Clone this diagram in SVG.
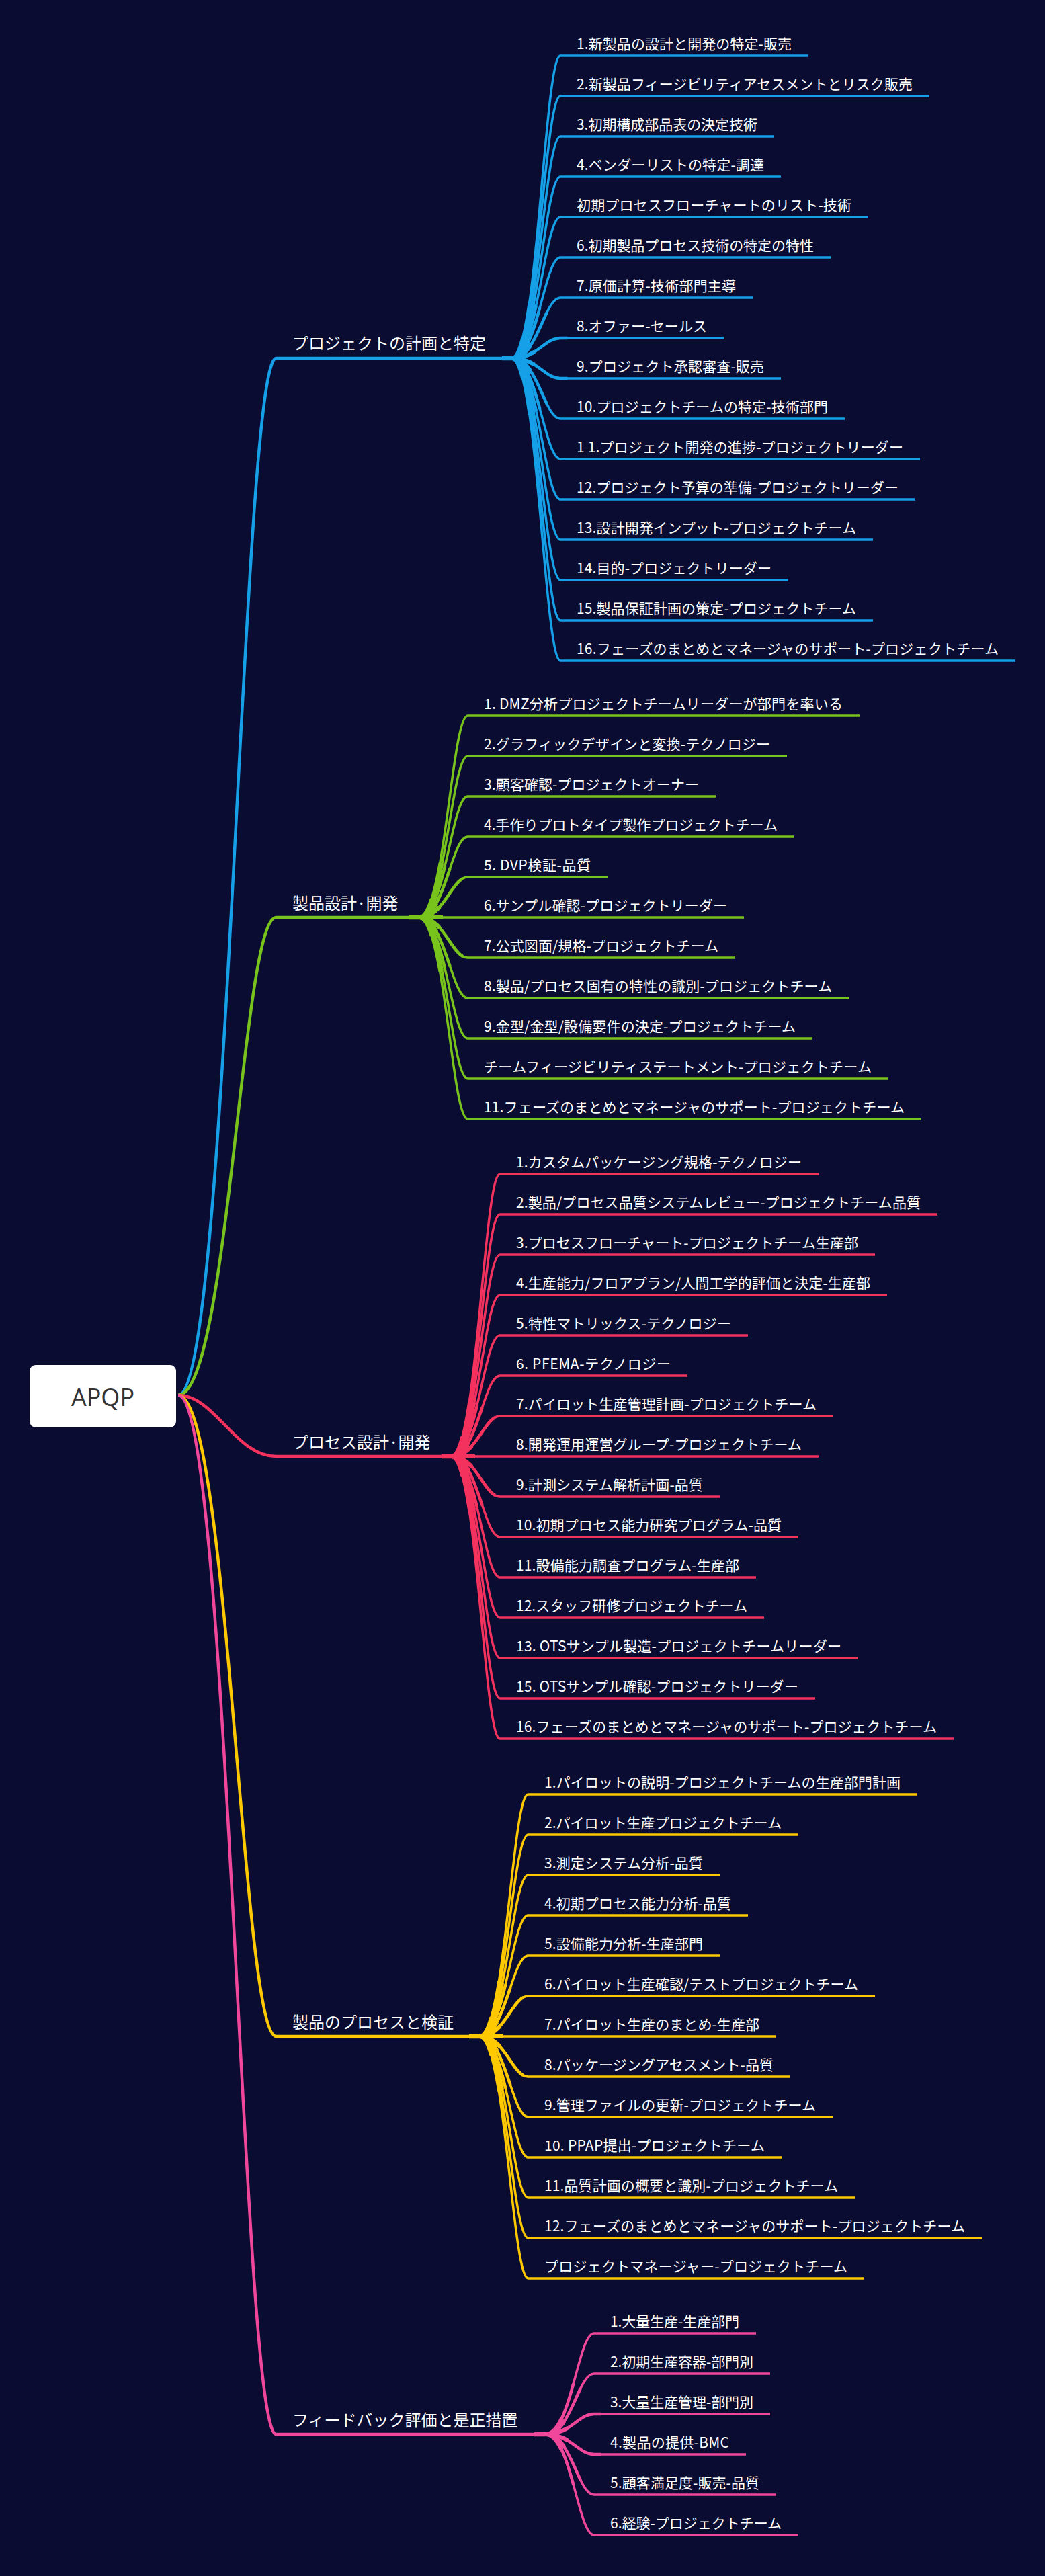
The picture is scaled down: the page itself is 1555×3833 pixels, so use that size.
<svg xmlns="http://www.w3.org/2000/svg" xmlns:xlink="http://www.w3.org/1999/xlink" width="1555" height="3833" viewBox="0 0 1555 3833">
<style>
.bg{fill:#0a0d31}
.t{font-family:"Noto Sans CJK JP","Noto Sans",sans-serif;font-size:21px;fill:#ffffff}
.m{font-size:24px}
.root-t{font-family:"Open Sans","Noto Sans",sans-serif;font-size:36px;fill:#333333}
.cb{stroke:#15a0e8}
.cg{stroke:#78c31c}
.cr{stroke:#f4325e}
.cy{stroke:#fec901}
.cp{stroke:#f0479b}
.main{fill:none;stroke-width:4.5}
.tp1{fill:none;stroke-width:6;stroke-dasharray:35 4000}
.tp2{fill:none;stroke-width:4.5;stroke-dasharray:90 4000}
.hub{fill:none;stroke-width:6.5}
</style>
<rect class="bg" x="0" y="0" width="1555" height="3833"/>

<g id="connectors">
  <g id="main-branches" class="main">
    <path class="cb" d="M265 2076 C340 2076 360 533 411 533 H762"/>
    <path class="cg" d="M265 2076 C340 2076 360 1365 411 1365 H624"/>
    <path class="cr" d="M265 2076 C320 2076 350 2167 411 2167 H672"/>
    <path class="cy" d="M265 2076 C340 2076 360 3030 411 3030 H714"/>
    <path class="cp" d="M265 2076 C340 2076 360 3622 411 3622 H812"/>
  </g>
  <g id="hubs" class="hub">
    <path class="cb" d="M747 533 H762"/>
    <path class="cg" d="M608 1365 H624"/>
    <path class="cr" d="M657 2167 H672"/>
    <path class="cy" d="M698 3030 H714"/>
    <path class="cp" d="M795 3622 H812"/>
  </g>
  <g id="sub-blue" class="cb" fill="none" stroke-width="3.5">
    <path id="b1" d="M762 533 C800 533 810 83 834 83 H1203"/>
    <path id="b2" d="M762 533 C800 533 810 143 834 143 H1383"/>
    <path id="b3" d="M762 533 C800 533 810 203 834 203 H1152"/>
    <path id="b4" d="M762 533 C800 533 810 263 834 263 H1162"/>
    <path id="b5" d="M762 533 C800 533 810 323 834 323 H1292"/>
    <path id="b6" d="M762 533 C800 533 810 383 834 383 H1236"/>
    <path id="b7" d="M762 533 C800 533 810 443 834 443 H1120"/>
    <path id="b8" d="M762 533 C800 533 810 503 834 503 H1077"/>
    <path id="b9" d="M762 533 C800 533 810 563 834 563 H1162"/>
    <path id="b10" d="M762 533 C800 533 810 623 834 623 H1257"/>
    <path id="b11" d="M762 533 C800 533 810 683 834 683 H1369"/>
    <path id="b12" d="M762 533 C800 533 810 743 834 743 H1362"/>
    <path id="b13" d="M762 533 C800 533 810 803 834 803 H1299"/>
    <path id="b14" d="M762 533 C800 533 810 863 834 863 H1173"/>
    <path id="b15" d="M762 533 C800 533 810 923 834 923 H1299"/>
    <path id="b16" d="M762 533 C800 533 810 983 834 983 H1511"/>
  </g>
  <g id="sub-green" class="cg" fill="none" stroke-width="3.5">
    <path id="g1" d="M624 1365 C662 1365 672 1065 696 1065 H1279"/>
    <path id="g2" d="M624 1365 C662 1365 672 1125 696 1125 H1171"/>
    <path id="g3" d="M624 1365 C662 1365 672 1185 696 1185 H1065"/>
    <path id="g4" d="M624 1365 C662 1365 672 1245 696 1245 H1182"/>
    <path id="g5" d="M624 1365 C662 1365 672 1305 696 1305 H904"/>
    <path id="g6" d="M624 1365 H1107"/>
    <path id="g7" d="M624 1365 C662 1365 672 1425 696 1425 H1094"/>
    <path id="g8" d="M624 1365 C662 1365 672 1485 696 1485 H1263"/>
    <path id="g9" d="M624 1365 C662 1365 672 1545 696 1545 H1209"/>
    <path id="g10" d="M624 1365 C662 1365 672 1605 696 1605 H1322"/>
    <path id="g11" d="M624 1365 C662 1365 672 1665 696 1665 H1371"/>
  </g>
  <g id="sub-red" class="cr" fill="none" stroke-width="3.5">
    <path id="r1" d="M672 2167 C710 2167 720 1747 744 1747 H1218"/>
    <path id="r2" d="M672 2167 C710 2167 720 1807 744 1807 H1395"/>
    <path id="r3" d="M672 2167 C710 2167 720 1867 744 1867 H1302"/>
    <path id="r4" d="M672 2167 C710 2167 720 1927 744 1927 H1320"/>
    <path id="r5" d="M672 2167 C710 2167 720 1987 744 1987 H1113"/>
    <path id="r6" d="M672 2167 C710 2167 720 2047 744 2047 H1023"/>
    <path id="r7" d="M672 2167 C710 2167 720 2107 744 2107 H1240"/>
    <path id="r8" d="M672 2167 H1218"/>
    <path id="r9" d="M672 2167 C710 2167 720 2227 744 2227 H1071"/>
    <path id="r10" d="M672 2167 C710 2167 720 2287 744 2287 H1188"/>
    <path id="r11" d="M672 2167 C710 2167 720 2347 744 2347 H1125"/>
    <path id="r12" d="M672 2167 C710 2167 720 2407 744 2407 H1137"/>
    <path id="r13" d="M672 2167 C710 2167 720 2467 744 2467 H1277"/>
    <path id="r14" d="M672 2167 C710 2167 720 2527 744 2527 H1213"/>
    <path id="r15" d="M672 2167 C710 2167 720 2587 744 2587 H1419"/>
  </g>
  <g id="sub-yellow" class="cy" fill="none" stroke-width="3.5">
    <path id="y1" d="M714 3030 C752 3030 762 2670 786 2670 H1365"/>
    <path id="y2" d="M714 3030 C752 3030 762 2730 786 2730 H1188"/>
    <path id="y3" d="M714 3030 C752 3030 762 2790 786 2790 H1071"/>
    <path id="y4" d="M714 3030 C752 3030 762 2850 786 2850 H1113"/>
    <path id="y5" d="M714 3030 C752 3030 762 2910 786 2910 H1071"/>
    <path id="y6" d="M714 3030 C752 3030 762 2970 786 2970 H1302"/>
    <path id="y7" d="M714 3030 H1155"/>
    <path id="y8" d="M714 3030 C752 3030 762 3090 786 3090 H1176"/>
    <path id="y9" d="M714 3030 C752 3030 762 3150 786 3150 H1239"/>
    <path id="y10" d="M714 3030 C752 3030 762 3210 786 3210 H1163"/>
    <path id="y11" d="M714 3030 C752 3030 762 3270 786 3270 H1272"/>
    <path id="y12" d="M714 3030 C752 3030 762 3330 786 3330 H1461"/>
    <path id="y13" d="M714 3030 C752 3030 762 3390 786 3390 H1286"/>
  </g>
  <g id="sub-pink" class="cp" fill="none" stroke-width="3.5">
    <path id="p1" d="M812 3622 C850 3622 860 3472 884 3472 H1125"/>
    <path id="p2" d="M812 3622 C850 3622 860 3532 884 3532 H1146"/>
    <path id="p3" d="M812 3622 C850 3622 860 3592 884 3592 H1146"/>
    <path id="p4" d="M812 3622 C850 3622 860 3652 884 3652 H1110"/>
    <path id="p5" d="M812 3622 C850 3622 860 3712 884 3712 H1155"/>
    <path id="p6" d="M812 3622 C850 3622 860 3772 884 3772 H1188"/>
  </g>
  <g id="taper" fill="none">
    <g class="cb"><use class="tp1" href="#b1"/><use class="tp1" href="#b2"/><use class="tp1" href="#b3"/><use class="tp1" href="#b4"/><use class="tp1" href="#b5"/><use class="tp1" href="#b6"/><use class="tp1" href="#b7"/><use class="tp1" href="#b8"/><use class="tp1" href="#b9"/><use class="tp1" href="#b10"/><use class="tp1" href="#b11"/><use class="tp1" href="#b12"/><use class="tp1" href="#b13"/><use class="tp1" href="#b14"/><use class="tp1" href="#b15"/><use class="tp1" href="#b16"/>
    <use class="tp2" href="#b1"/><use class="tp2" href="#b2"/><use class="tp2" href="#b3"/><use class="tp2" href="#b4"/><use class="tp2" href="#b5"/><use class="tp2" href="#b6"/><use class="tp2" href="#b7"/><use class="tp2" href="#b8"/><use class="tp2" href="#b9"/><use class="tp2" href="#b10"/><use class="tp2" href="#b11"/><use class="tp2" href="#b12"/><use class="tp2" href="#b13"/><use class="tp2" href="#b14"/><use class="tp2" href="#b15"/><use class="tp2" href="#b16"/></g>
    <g class="cg"><use class="tp1" href="#g1"/><use class="tp1" href="#g2"/><use class="tp1" href="#g3"/><use class="tp1" href="#g4"/><use class="tp1" href="#g5"/><use class="tp1" href="#g6"/><use class="tp1" href="#g7"/><use class="tp1" href="#g8"/><use class="tp1" href="#g9"/><use class="tp1" href="#g10"/><use class="tp1" href="#g11"/>
    <use class="tp2" href="#g1"/><use class="tp2" href="#g2"/><use class="tp2" href="#g3"/><use class="tp2" href="#g4"/><use class="tp2" href="#g5"/><use class="tp2" href="#g7"/><use class="tp2" href="#g8"/><use class="tp2" href="#g9"/><use class="tp2" href="#g10"/><use class="tp2" href="#g11"/></g>
    <g class="cr"><use class="tp1" href="#r1"/><use class="tp1" href="#r2"/><use class="tp1" href="#r3"/><use class="tp1" href="#r4"/><use class="tp1" href="#r5"/><use class="tp1" href="#r6"/><use class="tp1" href="#r7"/><use class="tp1" href="#r8"/><use class="tp1" href="#r9"/><use class="tp1" href="#r10"/><use class="tp1" href="#r11"/><use class="tp1" href="#r12"/><use class="tp1" href="#r13"/><use class="tp1" href="#r14"/><use class="tp1" href="#r15"/>
    <use class="tp2" href="#r1"/><use class="tp2" href="#r2"/><use class="tp2" href="#r3"/><use class="tp2" href="#r4"/><use class="tp2" href="#r5"/><use class="tp2" href="#r6"/><use class="tp2" href="#r7"/><use class="tp2" href="#r9"/><use class="tp2" href="#r10"/><use class="tp2" href="#r11"/><use class="tp2" href="#r12"/><use class="tp2" href="#r13"/><use class="tp2" href="#r14"/><use class="tp2" href="#r15"/></g>
    <g class="cy"><use class="tp1" href="#y1"/><use class="tp1" href="#y2"/><use class="tp1" href="#y3"/><use class="tp1" href="#y4"/><use class="tp1" href="#y5"/><use class="tp1" href="#y6"/><use class="tp1" href="#y7"/><use class="tp1" href="#y8"/><use class="tp1" href="#y9"/><use class="tp1" href="#y10"/><use class="tp1" href="#y11"/><use class="tp1" href="#y12"/><use class="tp1" href="#y13"/>
    <use class="tp2" href="#y1"/><use class="tp2" href="#y2"/><use class="tp2" href="#y3"/><use class="tp2" href="#y4"/><use class="tp2" href="#y5"/><use class="tp2" href="#y6"/><use class="tp2" href="#y8"/><use class="tp2" href="#y9"/><use class="tp2" href="#y10"/><use class="tp2" href="#y11"/><use class="tp2" href="#y12"/><use class="tp2" href="#y13"/></g>
    <g class="cp"><use class="tp1" href="#p1"/><use class="tp1" href="#p2"/><use class="tp1" href="#p3"/><use class="tp1" href="#p4"/><use class="tp1" href="#p5"/><use class="tp1" href="#p6"/>
    <use class="tp2" href="#p1"/><use class="tp2" href="#p2"/><use class="tp2" href="#p3"/><use class="tp2" href="#p4"/><use class="tp2" href="#p5"/><use class="tp2" href="#p6"/></g>
  </g>
</g>

<g id="root">
  <rect x="44" y="2031" width="218" height="93" rx="9" fill="#ffffff"/>
  <text class="root-t" x="153" y="2092" text-anchor="middle">APQP</text>
</g>

<g id="branch-1">
  <text class="t m" x="435" y="520">プロジェクトの計画と特定</text>
  <g id="b1-items">
    <text class="t" x="858" y="73" textLength="320">1.新製品の設計と開発の特定-販売</text>
    <text class="t" x="858" y="133" textLength="500">2.新製品フィージビリティアセスメントとリスク販売</text>
    <text class="t" x="858" y="193" textLength="269">3.初期構成部品表の決定技術</text>
    <text class="t" x="858" y="253" textLength="279">4.ベンダーリストの特定-調達</text>
    <text class="t" x="858" y="313" textLength="409">初期プロセスフローチャートのリスト-技術</text>
    <text class="t" x="858" y="373" textLength="353">6.初期製品プロセス技術の特定の特性</text>
    <text class="t" x="858" y="433" textLength="237">7.原価計算-技術部門主導</text>
    <text class="t" x="858" y="493" textLength="194">8.オファー-セールス</text>
    <text class="t" x="858" y="553" textLength="279">9.プロジェクト承認審査-販売</text>
    <text class="t" x="858" y="613" textLength="374">10.プロジェクトチームの特定-技術部門</text>
    <text class="t" x="858" y="673" textLength="486">1 1.プロジェクト開発の進捗-プロジェクトリーダー</text>
    <text class="t" x="858" y="733" textLength="479">12.プロジェクト予算の準備-プロジェクトリーダー</text>
    <text class="t" x="858" y="793" textLength="416">13.設計開発インプット-プロジェクトチーム</text>
    <text class="t" x="858" y="853" textLength="290">14.目的-プロジェクトリーダー</text>
    <text class="t" x="858" y="913" textLength="416">15.製品保証計画の策定-プロジェクトチーム</text>
    <text class="t" x="858" y="973" textLength="628">16.フェーズのまとめとマネージャのサポート-プロジェクトチーム</text>
  </g>
</g>

<g id="branch-2">
  <text class="t m" x="435" y="1353">製品設計·開発</text>
  <g id="b2-items">
    <text class="t" x="720" y="1055" textLength="534">1. DMZ分析プロジェクトチームリーダーが部門を率いる</text>
    <text class="t" x="720" y="1115" textLength="426">2.グラフィックデザインと変換-テクノロジー</text>
    <text class="t" x="720" y="1175" textLength="320">3.顧客確認-プロジェクトオーナー</text>
    <text class="t" x="720" y="1235" textLength="437">4.手作りプロトタイプ製作プロジェクトチーム</text>
    <text class="t" x="720" y="1295" textLength="159">5. DVP検証-品質</text>
    <text class="t" x="720" y="1355" textLength="362">6.サンプル確認-プロジェクトリーダー</text>
    <text class="t" x="720" y="1415" textLength="349">7.公式図面/規格-プロジェクトチーム</text>
    <text class="t" x="720" y="1475" textLength="518">8.製品/プロセス固有の特性の識別-プロジェクトチーム</text>
    <text class="t" x="720" y="1535" textLength="464">9.金型/金型/設備要件の決定-プロジェクトチーム</text>
    <text class="t" x="720" y="1595" textLength="577">チームフィージビリティステートメント-プロジェクトチーム</text>
    <text class="t" x="720" y="1655" textLength="626">11.フェーズのまとめとマネージャのサポート-プロジェクトチーム</text>
  </g>
</g>

<g id="branch-3">
  <text class="t m" x="435" y="2155">プロセス設計·開発</text>
  <g id="b3-items">
    <text class="t" x="768" y="1737" textLength="425">1.カスタムパッケージング規格-テクノロジー</text>
    <text class="t" x="768" y="1797" textLength="602">2.製品/プロセス品質システムレビュー-プロジェクトチーム品質</text>
    <text class="t" x="768" y="1857" textLength="509">3.プロセスフローチャート-プロジェクトチーム生産部</text>
    <text class="t" x="768" y="1917" textLength="527">4.生産能力/フロアプラン/人間工学的評価と決定-生産部</text>
    <text class="t" x="768" y="1977" textLength="320">5.特性マトリックス-テクノロジー</text>
    <text class="t" x="768" y="2037" textLength="230">6. PFEMA-テクノロジー</text>
    <text class="t" x="768" y="2097" textLength="447">7.パイロット生産管理計画-プロジェクトチーム</text>
    <text class="t" x="768" y="2157" textLength="425">8.開発運用運営グループ-プロジェクトチーム</text>
    <text class="t" x="768" y="2217" textLength="278">9.計測システム解析計画-品質</text>
    <text class="t" x="768" y="2277" textLength="395">10.初期プロセス能力研究プログラム-品質</text>
    <text class="t" x="768" y="2337" textLength="332">11.設備能力調査プログラム-生産部</text>
    <text class="t" x="768" y="2397" textLength="344">12.スタッフ研修プロジェクトチーム</text>
    <text class="t" x="768" y="2457" textLength="484">13. OTSサンプル製造-プロジェクトチームリーダー</text>
    <text class="t" x="768" y="2517" textLength="420">15. OTSサンプル確認-プロジェクトリーダー</text>
    <text class="t" x="768" y="2577" textLength="626">16.フェーズのまとめとマネージャのサポート-プロジェクトチーム</text>
  </g>
</g>

<g id="branch-4">
  <text class="t m" x="435" y="3018">製品のプロセスと検証</text>
  <g id="b4-items">
    <text class="t" x="810" y="2660" textLength="530">1.パイロットの説明-プロジェクトチームの生産部門計画</text>
    <text class="t" x="810" y="2720" textLength="353">2.パイロット生産プロジェクトチーム</text>
    <text class="t" x="810" y="2780" textLength="236">3.測定システム分析-品質</text>
    <text class="t" x="810" y="2840" textLength="278">4.初期プロセス能力分析-品質</text>
    <text class="t" x="810" y="2900" textLength="236">5.設備能力分析-生産部門</text>
    <text class="t" x="810" y="2960" textLength="467">6.パイロット生産確認/テストプロジェクトチーム</text>
    <text class="t" x="810" y="3020" textLength="320">7.パイロット生産のまとめ-生産部</text>
    <text class="t" x="810" y="3080" textLength="341">8.パッケージングアセスメント-品質</text>
    <text class="t" x="810" y="3140" textLength="404">9.管理ファイルの更新-プロジェクトチーム</text>
    <text class="t" x="810" y="3200" textLength="328">10. PPAP提出-プロジェクトチーム</text>
    <text class="t" x="810" y="3260" textLength="437">11.品質計画の概要と識別-プロジェクトチーム</text>
    <text class="t" x="810" y="3320" textLength="626">12.フェーズのまとめとマネージャのサポート-プロジェクトチーム</text>
    <text class="t" x="810" y="3380" textLength="451">プロジェクトマネージャー-プロジェクトチーム</text>
  </g>
</g>

<g id="branch-5">
  <text class="t m" x="435" y="3610">フィードバック評価と是正措置</text>
  <g id="b5-items">
    <text class="t" x="908" y="3462" textLength="192">1.大量生産-生産部門</text>
    <text class="t" x="908" y="3522" textLength="213">2.初期生産容器-部門別</text>
    <text class="t" x="908" y="3582" textLength="213">3.大量生産管理-部門別</text>
    <text class="t" x="908" y="3642" textLength="177">4.製品の提供-BMC</text>
    <text class="t" x="908" y="3702" textLength="222">5.顧客満足度-販売-品質</text>
    <text class="t" x="908" y="3762" textLength="255">6.経験-プロジェクトチーム</text>
  </g>
</g>
</svg>
